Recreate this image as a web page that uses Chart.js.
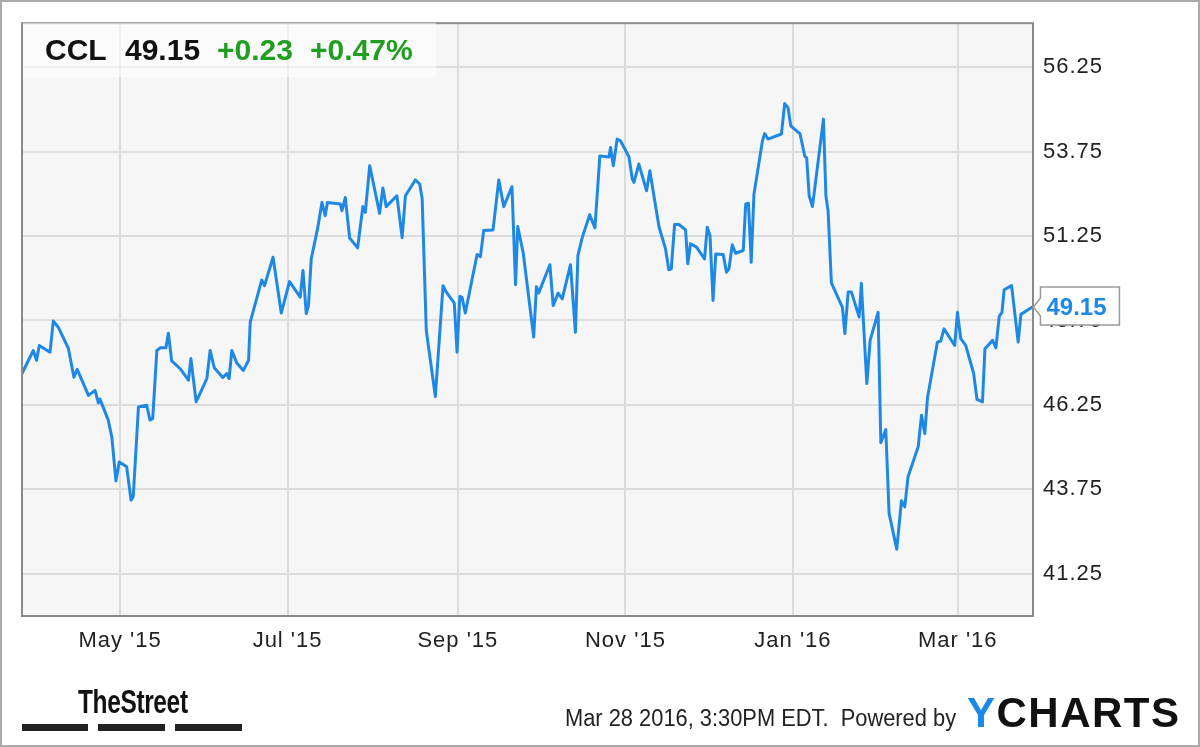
<!DOCTYPE html>
<html lang="en">
<head>
  <meta charset="UTF-8" />
  <meta name="viewport" content="width=device-width, initial-scale=1" />
  <title>CCL Stock Chart</title>
  <style>
    body {
      margin: 0;
      background: #fff;
      font-family: 'Liberation Sans', Arial, sans-serif;
    }
    #wrap {
      position: relative;
      width: 1200px;
      height: 747px;
      overflow: hidden;
    }
    #frame {
      position: absolute;
      left: 0; top: 0;
      width: 1200px; height: 747px;
      box-sizing: border-box;
      border: 2px solid #aaa;
      pointer-events: none;
    }
    #quoteBox {
      position: absolute;
      left: 23px; top: 23px;
      width: 413px; height: 54px;
      background: rgba(255,255,255,0.55);
    }
    .q {
      position: absolute;
      top: 35px;
      font: bold 30px 'Liberation Sans', Arial, sans-serif;
      line-height: 30px;
      white-space: nowrap;
      color: #111;
    }
    .up { color: #1f9e1f; }
    #street {
      position: absolute;
      left: 78px; top: 684px;
      font: bold 34px 'Liberation Sans', Arial, sans-serif;
      line-height: 34px;
      letter-spacing: -0.5px;
      transform: scaleX(0.72);
      transform-origin: left top;
      color: #111;
    }
    .bar {
      position: absolute;
      top: 724px; height: 7px;
      background: #222;
    }
    #stamp {
      position: absolute;
      left: 565px; top: 707px;
      font: 23px 'Liberation Sans', Arial, sans-serif;
      line-height: 23px;
      white-space: nowrap;
      transform: scaleX(0.95);
      transform-origin: left top;
      color: #222;
    }
    #ycharts {
      position: absolute;
      left: 967px; top: 692px;
      font: bold 42px 'Liberation Sans', Arial, sans-serif;
      line-height: 42px;
      letter-spacing: 1.5px;
      color: #111;
    }
    #ycharts span { color: #1a8ae6; }
  </style>
  <script src="https://cdn.jsdelivr.net/npm/chart.js"></script>
</head>
<body>
  <div id="wrap">
    <canvas id="stockChart"></canvas>
    <div id="quoteBox"></div>
    <div class="q" style="left:45px">CCL</div>
    <div class="q" style="left:125px">49.15</div>
    <div class="q up" style="left:217px">+0.23</div>
    <div class="q up" style="left:310px">+0.47%</div>
    <div id="street">TheStreet</div>
    <div class="bar" style="left:22px; width:66px"></div>
    <div class="bar" style="left:98px; width:67px"></div>
    <div class="bar" style="left:175px; width:67px"></div>
    <div id="stamp">Mar 28 2016, 3:30PM EDT.&nbsp; Powered by</div>
    <div id="ycharts"><span>Y</span>CHARTS</div>
    <div id="frame"></div>
  </div>
  <script>
    // days counted from Mar 28 2015, closing prices
    const days = [
      -1.7, 2.4, 3.6, 4.6, 8.5, 9.7, 11.5, 15.2, 17.2, 18.4,
      22.5, 24.9, 26.1, 26.7, 29.7, 31, 32.5, 33.7, 36.4, 38,
      38.8, 40.7, 43.7, 44.9, 45.9, 47.4, 48.6, 50.7, 51.6, 52.8,
      55.9, 58.9, 59.8, 61.7, 65.6, 66.8, 68.3, 71.4, 72.9, 73.7,
      74.7, 76.5, 78.9, 80.8, 81.4, 85.6, 86.6, 89.7, 92.7, 95.7,
      99.6, 100.6, 101.8, 102.6, 103.6, 105.9, 107.5, 108.7, 109.5, 114.2,
      114.8, 116, 117.6, 120.5, 122.4, 123.3, 124.9, 128.5, 129.7, 130.9,
      134.8, 136.7, 137.9, 141.5, 143.1, 144, 145.5, 148.8, 151.6, 152.8,
      155.7, 156.7, 157.7, 158.5, 159.7, 164, 165.2, 166.4, 169.8, 171.9,
      173.7, 176.7, 178, 178.8, 180.8, 184.6, 185.6, 186.4, 190.5, 191.7,
      193.5, 195, 198, 199.8, 200.7, 202.3, 205, 206.9, 208.7, 212,
      212.6, 213.6, 215, 216.2, 219.3, 220.5, 221.1, 222.9, 225.7, 226.9,
      230.2, 232.6, 233.8, 234.7, 235.9, 237.5, 239.9, 240.7, 241.7, 243.9,
      246.8, 247.8, 248.8, 249.9, 250.9, 253.6, 254.8, 255.7, 256.9, 258.1,
      260.9, 261.8, 262.8, 263.8, 264.8, 267.9, 268.7, 269.9, 274.8, 276,
      277.2, 278.2, 281.6, 283.3, 284, 284.9, 286.1, 290.1, 291, 291.8,
      293, 297, 297.9, 299.1, 300.3, 303.1, 303.9, 305.9, 307.1, 310,
      311, 312.8, 314, 316.8, 318.5, 319.7, 320.9, 324.6, 325.8, 327,
      328, 331.6, 332.8, 334, 337.9, 338.9, 340.1, 341.9, 344.8, 346,
      348, 348.9, 351.7, 352.9, 354.1, 355.1, 355.9, 358.6, 361, 362,
      366.2
    ];
    const prices = [
      47.18, 47.86, 47.57, 48.01, 47.81, 48.73, 48.55, 47.92, 47.07, 47.30,
      46.53, 46.68, 46.31, 46.42, 45.80, 45.30, 44.00, 44.56, 44.42, 43.43,
      43.53, 46.19, 46.24, 45.80, 45.85, 47.86, 47.94, 47.94, 48.37, 47.55,
      47.32, 46.98, 47.62, 46.34, 47.03, 47.86, 47.35, 47.06, 47.18, 47.03,
      47.86, 47.49, 47.27, 47.57, 48.70, 49.95, 49.78, 50.62, 48.97, 49.90,
      49.44, 50.23, 48.95, 49.19, 50.57, 51.46, 52.24, 51.85, 52.24, 52.20,
      52.00, 52.39, 51.19, 50.90, 52.12, 51.95, 53.33, 51.92, 52.67, 52.12,
      52.44, 51.20, 52.44, 52.91, 52.79, 52.35, 48.45, 46.50, 49.78, 49.59,
      49.26, 47.81, 49.46, 49.44, 48.97, 50.70, 50.64, 51.41, 51.43, 52.91,
      52.12, 52.71, 49.81, 51.53, 50.74, 48.26, 49.75, 49.56, 50.40, 49.19,
      49.56, 49.39, 50.40, 48.40, 50.67, 51.21, 51.88, 51.49, 53.62, 53.59,
      53.87, 53.33, 54.12, 54.07, 53.59, 52.94, 52.84, 53.38, 52.59, 53.18,
      51.53, 50.87, 50.25, 50.28, 51.59, 51.59, 51.43, 50.43, 51.02, 50.92,
      50.57, 51.51, 51.26, 49.34, 50.72, 50.70, 50.18, 50.28, 50.99, 50.74,
      50.82, 52.20, 52.22, 50.47, 52.49, 54.07, 54.28, 54.12, 54.27, 55.17,
      55.05, 54.51, 54.27, 53.62, 53.56, 52.44, 52.12, 54.71, 52.44, 51.98,
      49.86, 49.14, 48.36, 49.59, 49.59, 48.85, 49.85, 46.88, 48.16, 48.99,
      45.13, 45.52, 43.04, 41.98, 43.41, 43.23, 44.12, 45.01, 45.94, 45.40,
      46.47, 48.11, 48.14, 48.50, 48.01, 48.99, 48.21, 48.01, 47.18, 46.41,
      46.34, 47.91, 48.16, 47.94, 48.87, 48.99, 49.66, 49.78, 48.11, 48.93,
      49.15
    ];

    // month gridlines (1st of month, as day offsets) and their labels
    const monthTicks = [34, 95, 157, 218, 279, 339];
    const monthLabels = ["May '15", "Jul '15", "Sep '15", "Nov '15", "Jan '16", "Mar '16"];
    const priceTicks = [41.25, 43.75, 46.25, 48.75, 51.25, 53.75, 56.25];

    const FONT = "'Liberation Sans', Arial, sans-serif";
    const LINE_BLUE = '#1e88e5';

    // plot background, frame and the last-price flag
    const plotFrame = {
      id: 'plotFrame',
      beforeDraw(chart) {
        const { ctx, chartArea: a } = chart;
        ctx.save();
        ctx.fillStyle = '#f6f6f6';
        ctx.fillRect(a.left, a.top, a.right - a.left, a.bottom - a.top);
        ctx.restore();
        ctx.letterSpacing = '1px';
      },
      afterDatasetsDraw(chart) {
        const { ctx, chartArea: a } = chart;
        ctx.save();
        ctx.strokeStyle = '#8a8a8a';
        ctx.lineWidth = 2;
        ctx.strokeRect(a.left, a.top, a.right - a.left, a.bottom - a.top);
        ctx.restore();
      },
      afterDraw(chart) {
        const { ctx } = chart;
        const last = prices.length - 1;
        const px = chart.scales.x.getPixelForValue(days[last]);
        const py = chart.scales.y.getPixelForValue(prices[last]);
        const left = px + 8, top = py - 20, w = 79, h = 38;
        ctx.save();
        ctx.beginPath();
        ctx.moveTo(left, top);
        ctx.lineTo(left + w, top);
        ctx.lineTo(left + w, top + h);
        ctx.lineTo(left, top + h);
        ctx.lineTo(left, py + 9);
        ctx.lineTo(px + 1, py);
        ctx.lineTo(left, py - 9);
        ctx.closePath();
        ctx.fillStyle = '#fff';
        ctx.fill();
        ctx.strokeStyle = '#999';
        ctx.lineWidth = 1.5;
        ctx.stroke();
        ctx.letterSpacing = '0px';
        ctx.fillStyle = LINE_BLUE;
        ctx.font = 'bold 24px ' + FONT;
        ctx.textAlign = 'left';
        ctx.textBaseline = 'middle';
        ctx.fillText(prices[last].toFixed(2), left + 6, py + 1);
        ctx.restore();
      }
    };

    const points = days.map((d, i) => ({ x: d, y: prices[i] }));

    new Chart(document.getElementById('stockChart'), {
      type: 'line',
      data: {
        datasets: [{
          label: 'CCL',
          data: points,
          borderColor: LINE_BLUE,
          borderWidth: 3,
          borderJoinStyle: 'round',
          pointRadius: 0,
          tension: 0,
          fill: false
        }]
      },
      options: {
        responsive: true,
        maintainAspectRatio: false,
        animation: false,
        layout: { padding: { left: 22, top: 22, right: 0, bottom: 0 } },
        plugins: {
          legend: { display: false },
          tooltip: { enabled: false }
        },
        scales: {
          x: {
            type: 'linear',
            min: -1.7,
            max: 366.4,
            afterBuildTicks: s => { s.ticks = monthTicks.map(v => ({ value: v })); },
            afterFit: s => { s.height = 131; },
            ticks: {
              callback: (v, i) => monthLabels[i],
              font: { family: FONT, size: 22 },
              color: '#222',
              padding: 12,
              maxRotation: 0,
              autoSkip: false
            },
            grid: { color: '#dcdcdc', lineWidth: 2, drawTicks: false },
            border: { display: false }
          },
          y: {
            type: 'linear',
            position: 'right',
            min: 40.0,
            max: 57.55,
            afterBuildTicks: s => { s.ticks = priceTicks.map(v => ({ value: v })); },
            afterFit: s => { s.width = 167; },
            ticks: {
              callback: v => v.toFixed(2),
              font: { family: FONT, size: 22 },
              color: '#222',
              padding: 10
            },
            grid: { color: '#dcdcdc', lineWidth: 2, drawTicks: false },
            border: { display: false }
          }
        }
      },
      plugins: [plotFrame]
    });
  </script>
</body>
</html>
